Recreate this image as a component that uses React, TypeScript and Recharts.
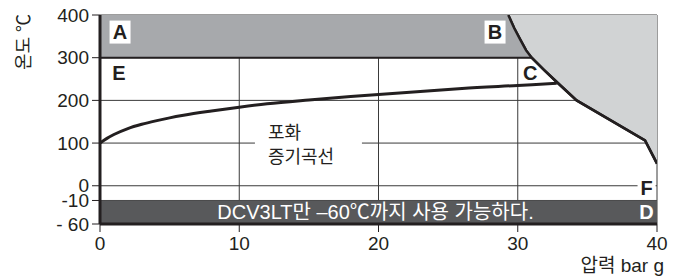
import React from 'react';
import {
  ComposedChart,
  XAxis,
  YAxis,
  CartesianGrid,
  Area,
  Line,
  ReferenceArea,
  ReferenceDot,
} from 'recharts';

// ---- data ----
const xTicks = [0, 10, 20, 30, 40];
const yTickValues = [-60, -10, 0, 100, 200, 300, 400];
const yTickLabels = ['- 60', '-10', '0', '100', '200', '300', '400'];

// saturated steam curve (pressure bar g -> temperature °C)
const satPressure = [0, 0.5, 1, 2, 3, 4, 5, 6, 8, 10, 12, 15, 18, 20, 23, 26, 30, 32.8];
const satTemp = [100, 111, 120, 134, 144, 152, 159, 165, 175, 184, 192, 201, 209, 214, 221, 228, 235, 240];

// limit curve of the operating range
const limitPressure = [29.32, 29.75, 30.2, 30.6, 31.0, 31.9, 32.8, 34.23, 39.14, 40];
const limitTemp = [400, 369, 341, 317, 300, 271, 243, 200, 106, 52];

// low temperature band
const bandLow = -60;
const bandHigh = -10;
const bandText = 'DCV3LT만 –60℃까지 사용 가능하다.';

const regionNames = ['A', 'B', 'C', 'D', 'E', 'F'];
const curveName = ['포화', '증기곡선'];
const xTitle = '압력 bar g';
const yTitle = '온도 ℃';

// ---- annotation placement (pressure, temperature) ----
const regionAt: Record<string, [number, number]> = {
  A: [1.44, 360],
  B: [28.37, 360],
  C: [30.9, 264],
  D: [39.25, -35],
  E: [1.36, 264],
  F: [39.25, -1.4],
};

// piecewise temperature axis: 0..400 linear, -10..0 stretched, -60..-10 compressed
const toAxis = (v: number) =>
  v >= 0 ? v : v >= -10 ? v * 3.45 : -34.5 + (v + 10) * 1.102;

const satData = satPressure.map((p, i) => ({ p, y: toAxis(satTemp[i]) }));
const limitData = limitPressure.map((p, i) => ({ p, y: toAxis(limitTemp[i]) }));
const bandAData = [{ p: 0, y: 400 }, ...limitData.filter((d) => d.y >= 300)];
const p300 = limitPressure[limitTemp.indexOf(300)];
const line300Data = [
  { p: 0, y: 300 },
  { p: p300, y: 300 },
];

const yMin = toAxis(-60);
const yTicks = yTickValues.map(toAxis);
const yLabelFor = (v: number) => {
  const i = yTicks.findIndex((t) => Math.abs(t - v) < 1e-6);
  return i >= 0 ? yTickLabels[i] : '';
};

const INK = '#231f20';
const FONT = '"Liberation Sans", Arial, "Noto Sans CJK KR", sans-serif';

const letterLabel = (text: string, color: string, box: boolean, boxW = 20, boxH = 23) => (props: any) => {
  const vb = props.viewBox || {};
  const cx = (vb.x ?? 0) + (vb.width ?? 0) / 2;
  const cy = (vb.y ?? 0) + (vb.height ?? 0) / 2;
  return (
    <g>
      {box && <rect x={cx - boxW / 2} y={cy - boxH / 2} width={boxW} height={boxH} fill="#ffffff" />}
      <text
        x={cx}
        y={cy + 7}
        textAnchor="middle"
        fontFamily={FONT}
        fontWeight="bold"
        fontSize={20}
        fill={color}
      >
        {text}
      </text>
    </g>
  );
};

const curveLabel = (props: any) => {
  const vb = props.viewBox || {};
  const cx = (vb.x ?? 0) + (vb.width ?? 0) / 2;
  const cy = (vb.y ?? 0) + (vb.height ?? 0) / 2;
  return (
    <g>
      <rect x={cx - 13} y={cy - 20} width={107} height={45} fill="#ffffff" />
      <text x={cx} y={cy - 4} fontFamily={FONT} fontSize={18} fill={INK}>
        {curveName[0]}
      </text>
      <text x={cx} y={cy + 20} fontFamily={FONT} fontSize={18} fill={INK}>
        {curveName[1]}
      </text>
    </g>
  );
};

const bandLabel = (props: any) => {
  const vb = props.viewBox || {};
  const cx = (vb.x ?? 0) + (vb.width ?? 0) / 2;
  const cy = (vb.y ?? 0) + (vb.height ?? 0) / 2;
  return (
    <text x={cx - 3} y={cy + 7} textAnchor="middle" fontFamily={FONT} fontSize={20} fill="#ffffff">
      {bandText}
    </text>
  );
};

const yTitleLabel = () => (
  <text
    x={24}
    y={42}
    transform="rotate(-90 24 42)"
    textAnchor="middle"
    dominantBaseline="central"
    fontFamily={FONT}
    fontSize={18}
    fill={INK}
  >
    {yTitle}
  </text>
);

const xTitleLabel = () => (
  <text x={664} y={272} textAnchor="end" fontFamily={FONT} fontSize={19} fill={INK}>
    {xTitle}
  </text>
);

export default function App() {
  return (
    <div style={{ position: 'absolute', left: 0, top: 0, background: '#fff' }}>
      <ComposedChart
        width={678}
        height={280}
        margin={{ top: 15, right: 21, bottom: 26, left: 0 }}
        style={{ fontFamily: FONT }}
      >
        <CartesianGrid stroke="#3a3a3a" strokeWidth={1} />
        <XAxis
          dataKey="p"
          type="number"
          domain={[0, 40]}
          ticks={xTicks}
          allowDataOverflow
          height={30}
          tickSize={8}
          tickMargin={5}
          axisLine={{ stroke: INK, strokeWidth: 3 }}
          tickLine={{ stroke: INK, strokeWidth: 1 }}
          tick={{ fill: INK, fontSize: 19, fontFamily: FONT }}
          label={xTitleLabel}
        />
        <XAxis
          xAxisId="top"
          orientation="top"
          dataKey="p"
          type="number"
          domain={[0, 40]}
          height={0}
          tick={false}
          tickLine={false}
          axisLine={{ stroke: INK, strokeWidth: 3 }}
        />
        <YAxis
          type="number"
          domain={[yMin, 400]}
          ticks={yTicks}
          allowDataOverflow
          interval={0}
          width={100}
          tickSize={8}
          tickMargin={3}
          tickFormatter={yLabelFor}
          axisLine={{ stroke: INK, strokeWidth: 3 }}
          tickLine={{ stroke: INK, strokeWidth: 1 }}
          tick={{ fill: INK, fontSize: 19, fontFamily: FONT }}
          label={yTitleLabel}
        />
        <YAxis
          yAxisId="right"
          orientation="right"
          type="number"
          domain={[yMin, 400]}
          width={0}
          tick={false}
          tickLine={false}
          axisLine={{ stroke: INK, strokeWidth: 3 }}
        />
        <ReferenceArea
          x1={0}
          x2={40}
          y1={toAxis(bandLow)}
          y2={toAxis(bandHigh)}
          fill="#58595b"
          fillOpacity={1}
          stroke="none"
          label={bandLabel}
        />
        <Area
          data={limitData}
          dataKey="y"
          type="linear"
          baseValue={400}
          fill="#d1d3d4"
          fillOpacity={1}
          stroke={INK}
          strokeWidth={2.5}
          isAnimationActive={false}
          dot={false}
          activeDot={false}
        />
        <Area
          data={bandAData}
          dataKey="y"
          type="linear"
          baseValue={300}
          fill="#a7a9ac"
          fillOpacity={1}
          stroke="none"
          isAnimationActive={false}
          dot={false}
          activeDot={false}
        />
        <Line
          data={limitData}
          dataKey="y"
          type="linear"
          stroke={INK}
          strokeWidth={2.5}
          dot={false}
          activeDot={false}
          isAnimationActive={false}
        />
        <Line
          data={line300Data}
          dataKey="y"
          type="linear"
          stroke={INK}
          strokeWidth={2}
          dot={false}
          activeDot={false}
          isAnimationActive={false}
        />
        <Line
          data={satData}
          dataKey="y"
          type="monotone"
          stroke={INK}
          strokeWidth={3}
          dot={false}
          activeDot={false}
          isAnimationActive={false}
        />
        <ReferenceDot x={12.06} y={100} r={1} fill="none" stroke="none" label={curveLabel} />
        {regionNames.map((n) => {
          const [p, T] = regionAt[n];
          const isD = n === 'D';
          const box = n === 'A' || n === 'B' || n === 'F';
          return (
            <ReferenceDot
              key={n}
              x={p}
              y={toAxis(T)}
              r={1}
              fill="none"
              stroke="none"
              label={letterLabel(n, isD ? '#ffffff' : INK, box, n === 'F' ? 18 : 21, n === 'F' ? 17 : 23)}
            />
          );
        })}
      </ComposedChart>
    </div>
  );
}
